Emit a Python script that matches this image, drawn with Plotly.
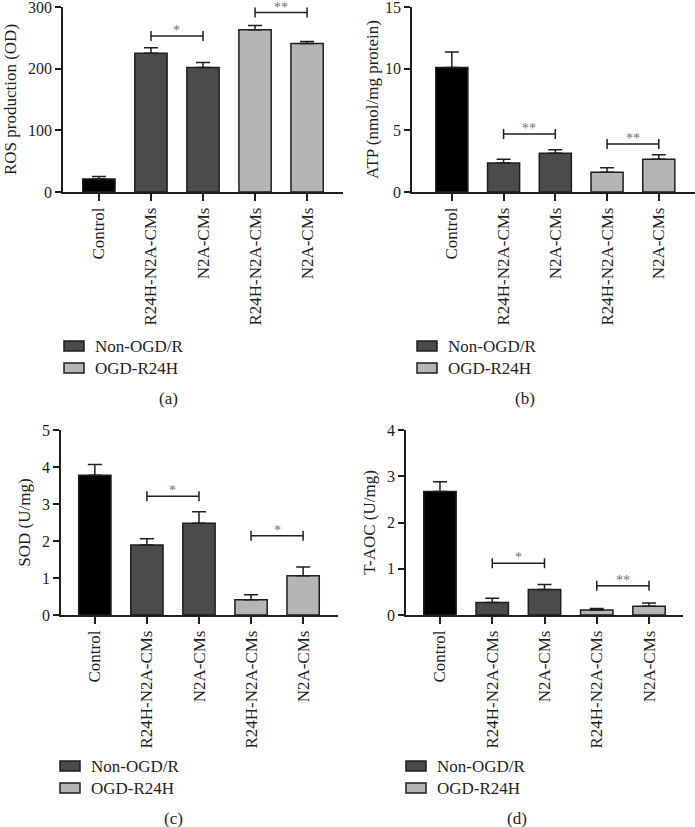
import plotly.graph_objects as go

W, H = 695, 827

# ---------------- data ----------------
categories = ["Control", "R24H-N2A-CMs", "N2A-CMs", "R24H-N2A-CMs", "N2A-CMs"]
groups = ["Control", "Non-OGD/R", "OGD-R24H"]
group_of_bar = [0, 1, 1, 2, 2]

ros_mean = [21, 225, 202, 263, 241]
ros_err = [4, 9, 8, 7, 3]
ros_sig = [(1, 2, 253, "*"), (3, 4, 291, "**")]

atp_mean = [10.1, 2.35, 3.15, 1.6, 2.65]
atp_err = [1.25, 0.3, 0.27, 0.37, 0.38]
atp_sig = [(1, 2, 4.7, "**"), (3, 4, 3.9, "**")]

sod_mean = [3.78, 1.89, 2.48, 0.41, 1.06]
sod_err = [0.29, 0.17, 0.31, 0.14, 0.24]
sod_sig = [(1, 2, 3.21, "*"), (3, 4, 2.14, "*")]

taoc_mean = [2.67, 0.27, 0.55, 0.11, 0.19]
taoc_err = [0.21, 0.09, 0.11, 0.03, 0.07]
taoc_sig = [(1, 2, 1.12, "*"), (3, 4, 0.63, "**")]

# ---------------- style ----------------
FONT = "Liberation Serif, Times New Roman, serif"
INK = "#1e1e1e"
FS = 17
group_colors = ["#000000", "#4b4b4b", "#b5b5b5"]

panels = [
    dict(mean=ros_mean, err=ros_err, sig=ros_sig, title="ROS production (OD)", standoff=7,
         yrange=[0, 300], dtick=100, px_x=(63, 343), px_y=(7, 192), xr=(-0.69, 4.69),
         leg=(64, 346), lab=(168, 398), label="(a)"),
    dict(mean=atp_mean, err=atp_err, sig=atp_sig, title="ATP (nmol/mg protein)", standoff=2,
         yrange=[0, 15], dtick=5, px_x=(412, 695), px_y=(7, 192), xr=(-0.77, 4.70),
         leg=(417, 346), lab=(525, 398), label="(b)"),
    dict(mean=sod_mean, err=sod_err, sig=sod_sig, title="SOD (U/mg)", standoff=7,
         yrange=[0, 5], dtick=1, px_x=(61, 338), px_y=(430, 615), xr=(-0.65, 4.67),
         leg=(60, 766), lab=(173, 818), label="(c)"),
    dict(mean=taoc_mean, err=taoc_err, sig=taoc_sig, title="T-AOC (U/mg)", standoff=7,
         yrange=[0, 4], dtick=1, px_x=(406, 683), px_y=(430, 615), xr=(-0.65, 4.65),
         leg=(406, 766), lab=(517, 818), label="(d)"),
]

fig = go.Figure()
layout = dict(
    width=W, height=H, margin=dict(l=0, r=0, t=0, b=0, autoexpand=False),
    paper_bgcolor="white", plot_bgcolor="white",
    font=dict(family=FONT, size=FS, color=INK),
    barmode="overlay", shapes=[], annotations=[], showlegend=False,
)

for i, p in enumerate(panels):
    n = "" if i == 0 else str(i + 1)
    xa, ya = "x" + n, "y" + n
    for g, gname in enumerate(groups):
        idx = [k for k, gb in enumerate(group_of_bar) if gb == g]
        fig.add_trace(go.Bar(
            x=idx, y=[p["mean"][k] for k in idx],
            width=0.62,
            marker=dict(color=group_colors[g], line=dict(color=INK, width=1.5)),
            error_y=dict(type="data", symmetric=False,
                         array=[p["err"][k] for k in idx],
                         arrayminus=[0] * len(idx),
                         color=INK, thickness=1.5, width=7),
            name=gname, xaxis=xa, yaxis=ya,
        ))
    x0, x1 = p["px_x"]
    ytop, ybot = p["px_y"]
    layout["xaxis" + n] = dict(
        domain=[x0 / W, x1 / W], range=list(p["xr"]), anchor=ya, automargin=False,
        tickmode="array", tickvals=list(range(len(categories))), ticktext=categories,
        tickangle=-90, ticks="outside", ticklen=7, tickwidth=1.5, tickcolor=INK,
        showline=True, linewidth=1.5, linecolor=INK, showgrid=False, zeroline=False,
        tickfont=dict(size=FS, family=FONT, color=INK), ticklabeloverflow="allow",
        fixedrange=True,
    )
    layout["yaxis" + n] = dict(
        domain=[1 - ybot / H, 1 - ytop / H], range=p["yrange"], anchor=xa, automargin=False,
        dtick=p["dtick"], ticks="outside", ticklen=6, tickwidth=1.5, tickcolor=INK,
        showline=True, linewidth=1.5, linecolor=INK, showgrid=False, zeroline=False,
        tickfont=dict(size=16, family=FONT, color=INK), ticklabeloverflow="allow",
        title=dict(text=p["title"], standoff=p["standoff"],
                   font=dict(size=FS, family=FONT, color=INK)),
        fixedrange=True,
    )
    # legend (Non-OGD/R, OGD-R24H)
    lx, ly = p["leg"]
    for j, g in enumerate((1, 2)):
        cy = ly + 22 * j
        layout["shapes"].append(dict(
            type="rect", xref="paper", yref="paper",
            x0=lx / W, x1=(lx + 20) / W, y0=1 - (cy + 5) / H, y1=1 - (cy - 5) / H,
            fillcolor=group_colors[g], line=dict(color=INK, width=1.5)))
        layout["annotations"].append(dict(
            x=(lx + 29) / W, y=1 - cy / H, xref="paper", yref="paper", text=groups[g],
            showarrow=False, xanchor="left", yanchor="middle",
            font=dict(size=FS, family=FONT, color=INK)))
    # significance brackets
    for a, b, yv, txt in p["sig"]:
        common = dict(xref=xa, yref=ya, line=dict(color=INK, width=1.5))
        layout["shapes"].append(dict(type="line", x0=a, x1=b, y0=yv, y1=yv, **common))
        for xv in (a, b):
            layout["shapes"].append(dict(type="line", x0=xv, x1=xv, ysizemode="pixel",
                                         yanchor=yv, y0=-5, y1=5, **common))
        layout["annotations"].append(dict(
            x=(a + b) / 2, y=yv, xref=xa, yref=ya, text=txt, showarrow=False,
            yanchor="bottom", yshift=-4, font=dict(size=14, family=FONT, color="#707070")))
    labx, laby = p["lab"]
    layout["annotations"].append(dict(
        x=labx / W, y=1 - laby / H, xref="paper", yref="paper", text=p["label"],
        showarrow=False, xanchor="center", yanchor="middle",
        font=dict(size=FS, family=FONT, color=INK)))

fig.update_layout(**layout)
fig.write_html("out.html", config={"displayModeBar": False},
               post_script="document.body.style.margin='0';")
